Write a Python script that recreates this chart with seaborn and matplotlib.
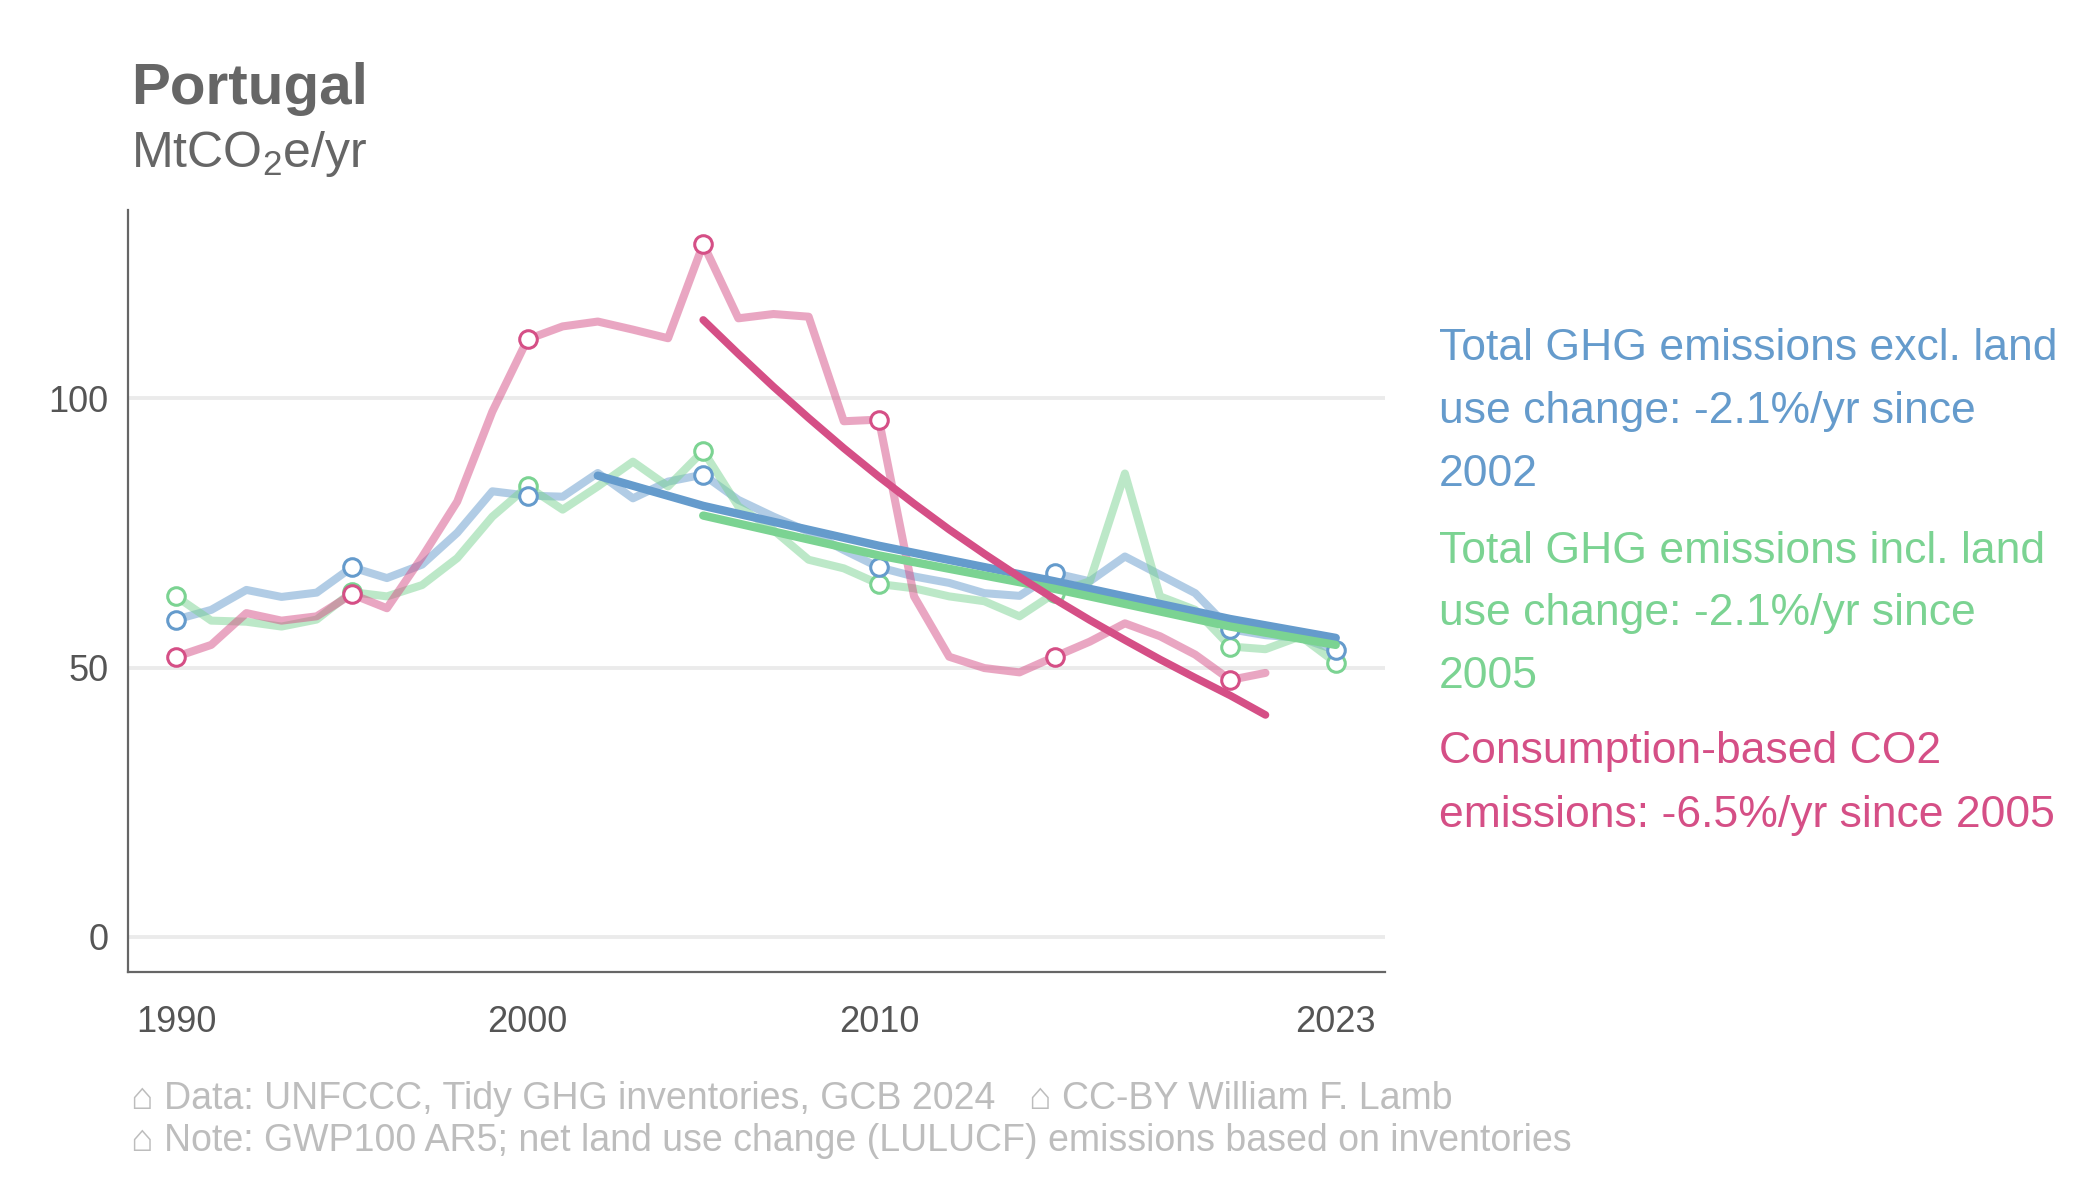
import pandas as pd
import seaborn as sns
import matplotlib.pyplot as plt

# annual emissions, MtCO2e/yr
years = list(range(1990, 2024))
ghg_excl = [58.9, 60.7, 64.4, 63.1, 63.9, 68.6, 66.6, 69.1, 75.0, 82.7,
            81.9, 81.7, 86.1, 81.4, 84.5, 85.8, 81.1, 78.0, 75.2, 71.8,
            68.6, 66.9, 65.7, 63.8, 63.3, 67.5, 66.0, 70.6, 67.2, 63.8,
            57.1, 56.0, 55.5, 53.2]
ghg_incl = [63.2, 58.7, 58.5, 57.6, 58.9, 64.0, 63.2, 65.3, 70.3, 78.0,
            83.6, 79.3, 83.6, 88.2, 83.6, 90.2, 79.9, 75.5, 70.0, 68.4,
            65.5, 64.7, 63.2, 62.3, 59.5, 63.8, 66.0, 86.0, 63.2, 60.7,
            53.9, 53.4, 55.8, 50.9]
cons_years = list(range(1990, 2022))
cons_co2 = [52.0, 54.2, 60.1, 58.7, 59.5, 63.6, 61.0, 70.5, 80.8, 97.5,
            110.9, 113.3, 114.2, 112.7, 111.1, 128.6, 114.8, 115.6, 115.1, 95.7,
            96.0, 63.2, 52.0, 49.9, 49.1, 52.0, 54.8, 58.2, 55.8, 52.4,
            47.7, 49.0]

# trend lines
excl_trend_years = [2002, 2005, 2010, 2015, 2020, 2023]
excl_trend = [85.6, 80.0, 72.6, 66.0, 59.0, 55.5]
incl_trend_years = [2005, 2010, 2015, 2020, 2023]
incl_trend = [78.2, 70.8, 64.6, 57.6, 54.2]
cons_trend_years = list(range(2005, 2022))
cons_trend = [114.5, 108.2, 102.1, 96.3, 90.7, 85.4, 80.4, 75.6, 71.1, 66.8,
              62.7, 58.8, 55.1, 51.5, 48.1, 44.8, 41.2]

marker_years = [1990, 1995, 2000, 2005, 2010, 2015, 2020, 2023]
cons_marker_years = [1990, 1995, 2000, 2005, 2010, 2015, 2020]

labels = [
    ["Total GHG emissions excl. land", "use change: -2.1%/yr since", "2002"],
    ["Total GHG emissions incl. land", "use change: -2.1%/yr since", "2005"],
    ["Consumption-based CO2", "emissions: -6.5%/yr since 2005"],
]

blue = "#659BCC"
green = "#7BD392"
pink = "#D54F86"

df_excl = pd.DataFrame({"year": years, "value": ghg_excl})
df_incl = pd.DataFrame({"year": years, "value": ghg_incl})
df_cons = pd.DataFrame({"year": cons_years, "value": cons_co2})

sns.set_style("white")
plt.rcParams["font.family"] = ["Liberation Sans", "DejaVu Sans"]
plt.rcParams["mathtext.default"] = "regular"

fig = plt.figure(figsize=(21, 12), dpi=100)
ax = fig.add_axes([0.0611, 0.19, 0.5984, 0.635])

# light raw series
for d, c in [(df_excl, blue), (df_incl, green), (df_cons, pink)]:
    sns.lineplot(data=d, x="year", y="value", color=c, alpha=0.5, lw=5.8,
                 ax=ax, zorder=2)

# open markers every five years
for d, c, my in [(df_incl, green, marker_years), (df_excl, blue, marker_years),
                 (df_cons, pink, cons_marker_years)]:
    sub = d[d["year"].isin(my)]
    sns.scatterplot(data=sub, x="year", y="value", color="white", edgecolor=c,
                    s=160, linewidth=2.2, ax=ax, zorder=3)

# trends
sns.lineplot(x=excl_trend_years, y=excl_trend, color=blue, lw=6, ax=ax, zorder=4)
sns.lineplot(x=incl_trend_years, y=incl_trend, color=green, lw=6, ax=ax, zorder=4)
sns.lineplot(x=cons_trend_years, y=cons_trend, color=pink, lw=5.5, ax=ax, zorder=5)

ax.set_xlim(1988.64, 2024.4)
ax.set_ylim(-6.5, 134.9)
ax.set_xticks([1990, 2000, 2010, 2023])
ax.set_yticks([0, 50, 100])
ax.set_xlabel("")
ax.set_ylabel("")
ax.yaxis.grid(True, color="#EBEBEB", lw=2.8, zorder=0)
ax.set_axisbelow(True)
for s in ["top", "right"]:
    ax.spines[s].set_visible(False)
for s in ["left", "bottom"]:
    ax.spines[s].set_color("#666666")
    ax.spines[s].set_linewidth(1.6)
ax.tick_params(axis="both", length=8, width=1.5, color="#666666",
               labelsize=26, labelcolor="#555555")
ax.tick_params(axis="x", pad=16)
ax.tick_params(axis="y", pad=6)

# titles
fig.text(0.0625, 1 - 104 / 1200, "Portugal", fontsize=42, weight="bold",
         color="#666666", va="baseline")
fig.text(0.0625, 1 - 167 / 1200, "MtCO$_2$e/yr", fontsize=36,
         color="#666666", va="baseline")

# right-hand labels
line_y = [[349, 412, 475], [551, 614, 677], [752, 816]]
for lines, ys, c in zip(labels, line_y, [blue, green, pink]):
    for t, y in zip(lines, ys):
        fig.text(1439 / 2100, 1 - y / 1200, t, fontsize=32, color=c, va="center")

# footer
fig.text(0.0625, 1 - 1099 / 1200, "\u2302 Data: UNFCCC, Tidy GHG inventories, GCB 2024",
         fontsize=27, color="#BDBDBD", va="center")
fig.text(1029 / 2100, 1 - 1099 / 1200, "\u2302 CC-BY William F. Lamb",
         fontsize=27, color="#BDBDBD", va="center")
fig.text(0.0625, 1 - 1141 / 1200,
         "\u2302 Note: GWP100 AR5; net land use change (LULUCF) emissions based on inventories",
         fontsize=27, color="#BDBDBD", va="center")

fig.savefig("out.png", dpi=100)
